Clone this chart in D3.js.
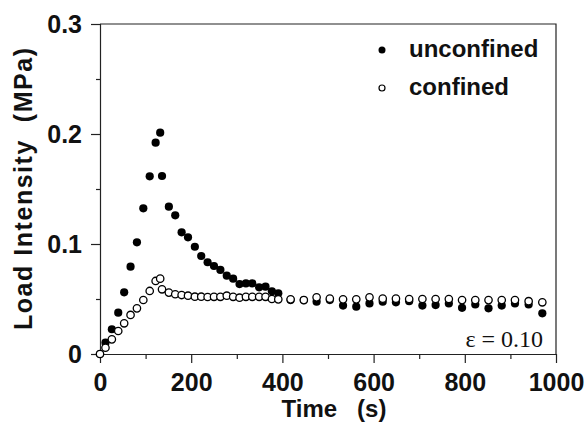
<!DOCTYPE html>
<html>
<head>
<meta charset="utf-8">
<script src="https://cdn.jsdelivr.net/npm/d3@7"></script>
<style>
  body { margin: 0; background: #fff; }
  text { font-family: "Liberation Sans", Arial, sans-serif; font-weight: bold; fill: #111; }
</style>
</head>
<body>
<div id="chart"></div>
<script>
// time (s) of each reading
var times = [0, 12, 26, 40, 53, 67, 81, 95, 109, 122, 132, 136, 151, 165, 179, 193, 208, 222, 236,
             250, 264, 278, 292, 306, 320, 334, 349, 363, 377, 391,
             418, 447, 475, 504, 533, 562, 591, 620, 649, 678, 707, 736, 765, 794, 823, 852, 881, 910, 940, 970];

// load intensity (MPa)
var unconfined = [0, 0.0103, 0.0225, 0.0376, 0.0561, 0.0794, 0.1015, 0.1324, 0.1615, 0.1921, 0.2012, 0.1618,
                  0.1339, 0.1261, 0.1106, 0.1061, 0.0975, 0.0891, 0.0834, 0.080, 0.0764, 0.0712, 0.0685,
                  0.0636, 0.0642, 0.0642, 0.0606, 0.0612, 0.057, 0.0552,
                  0.049, 0.049, 0.0476, 0.049, 0.044, 0.043, 0.046, 0.0476, 0.047, 0.048,
                  0.044, 0.0445, 0.046, 0.042, 0.045, 0.0415, 0.044, 0.046, 0.045, 0.037];

var confined = [0, 0.0057, 0.0133, 0.0209, 0.0279, 0.0355, 0.0415, 0.0491, 0.0573, 0.0664, 0.0685, 0.0588,
                0.0558, 0.0543, 0.0536, 0.053, 0.0521, 0.0521, 0.0518, 0.052, 0.052, 0.053, 0.052,
                0.0512, 0.052, 0.052, 0.052, 0.052, 0.050, 0.0497,
                0.0497, 0.049, 0.0515, 0.0503, 0.0497, 0.0497, 0.0515, 0.0503, 0.0503, 0.050,
                0.050, 0.050, 0.050, 0.049, 0.049, 0.049, 0.049, 0.049, 0.048, 0.047];

var xTicks = [0, 200, 400, 600, 800, 1000];
var xMinor = [100, 300, 500, 700, 900];
var yTicks = [0, 0.1, 0.2, 0.3];
var yMinor = [0.05, 0.15, 0.25];

var width = 585, height = 422;
var margin = {top: 24, right: 29, bottom: 68, left: 100};

var svg = d3.select("#chart").append("svg")
    .attr("width", width)
    .attr("height", height);

var x = d3.scaleLinear().domain([0, 1000]).range([margin.left, width - margin.right]);
var y = d3.scaleLinear().domain([0, 0.3]).range([height - margin.bottom, margin.top]);

// frame: top and right edges
svg.append("path")
    .attr("d", "M" + x(0) + "," + y(0.3) + "H" + x(1000) + "V" + y(0))
    .attr("fill", "none")
    .attr("stroke", "#222")
    .attr("stroke-width", 1.2);

// y axis
svg.append("g")
    .attr("transform", "translate(" + x(0) + ",0)")
    .call(d3.axisLeft(y).tickValues(yTicks).tickSize(9).tickPadding(9)
        .tickFormat(function(d) { return d === 0 ? "0" : d3.format(".1f")(d); }));
svg.append("g")
    .attr("transform", "translate(" + x(0) + ",0)")
    .call(d3.axisLeft(y).tickValues(yMinor).tickSize(4).tickFormat(""))
    .select(".domain").remove();

// x axis
svg.append("g")
    .attr("transform", "translate(0," + y(0) + ")")
    .call(d3.axisBottom(x).tickValues(xTicks).tickSize(9).tickPadding(10).tickSizeOuter(0)
        .tickFormat(d3.format("d")));
svg.append("g")
    .attr("transform", "translate(0," + y(0) + ")")
    .call(d3.axisBottom(x).tickValues(xMinor).tickSize(5).tickFormat(""))
    .select(".domain").remove();

svg.selectAll(".domain").attr("stroke", "#222").attr("stroke-width", 1.2);
svg.selectAll(".tick line").attr("stroke", "#222").attr("stroke-width", 1.2);
svg.selectAll(".tick text")
    .style("font-family", "'Liberation Sans', Arial, sans-serif")
    .style("font-weight", "bold")
    .style("font-size", "25px")
    .attr("fill", "#111");

// axis titles
svg.append("text")
    .attr("x", 334)
    .attr("y", 417)
    .attr("text-anchor", "middle")
    .style("font-size", "24px")
    .style("white-space", "pre")
    .text("Time   (s)");

svg.append("text")
    .attr("transform", "translate(32," + ((y(0) + y(0.3)) / 2) + ") rotate(-90)")
    .attr("text-anchor", "middle")
    .style("font-size", "25px")
    .style("white-space", "pre")
    .attr("textLength", 282)
    .attr("lengthAdjust", "spacing")
    .text("Load Intensity  (MPa)");

// data points
var rows = times.map(function(t, i) { return {t: t, u: unconfined[i], c: confined[i]}; });

svg.append("g").selectAll("circle")
    .data(rows)
  .enter().append("circle")
    .attr("cx", function(d) { return x(d.t); })
    .attr("cy", function(d) { return y(d.u); })
    .attr("r", 4.1)
    .attr("fill", "#000");

svg.append("g").selectAll("circle")
    .data(rows)
  .enter().append("circle")
    .attr("cx", function(d) { return x(d.t); })
    .attr("cy", function(d) { return y(d.c); })
    .attr("r", 3.7)
    .attr("fill", "#fff")
    .attr("stroke", "#000")
    .attr("stroke-width", 1.3);

// legend
var legend = svg.append("g");
legend.append("circle").attr("cx", 382).attr("cy", 50).attr("r", 3.5).attr("fill", "#000");
legend.append("text").attr("x", 409).attr("y", 57).style("font-size", "24px").text("unconfined");
legend.append("circle").attr("cx", 382).attr("cy", 88).attr("r", 3)
    .attr("fill", "#fff").attr("stroke", "#000").attr("stroke-width", 1.2);
legend.append("text").attr("x", 409).attr("y", 95).style("font-size", "24px").text("confined");

// strain annotation
svg.append("text")
    .attr("x", 543)
    .attr("y", 347)
    .attr("text-anchor", "end")
    .style("font-family", "'Liberation Serif', 'Times New Roman', serif")
    .style("font-weight", "normal")
    .style("font-size", "24px")
    .text("ε = 0.10");
</script>
</body>
</html>
